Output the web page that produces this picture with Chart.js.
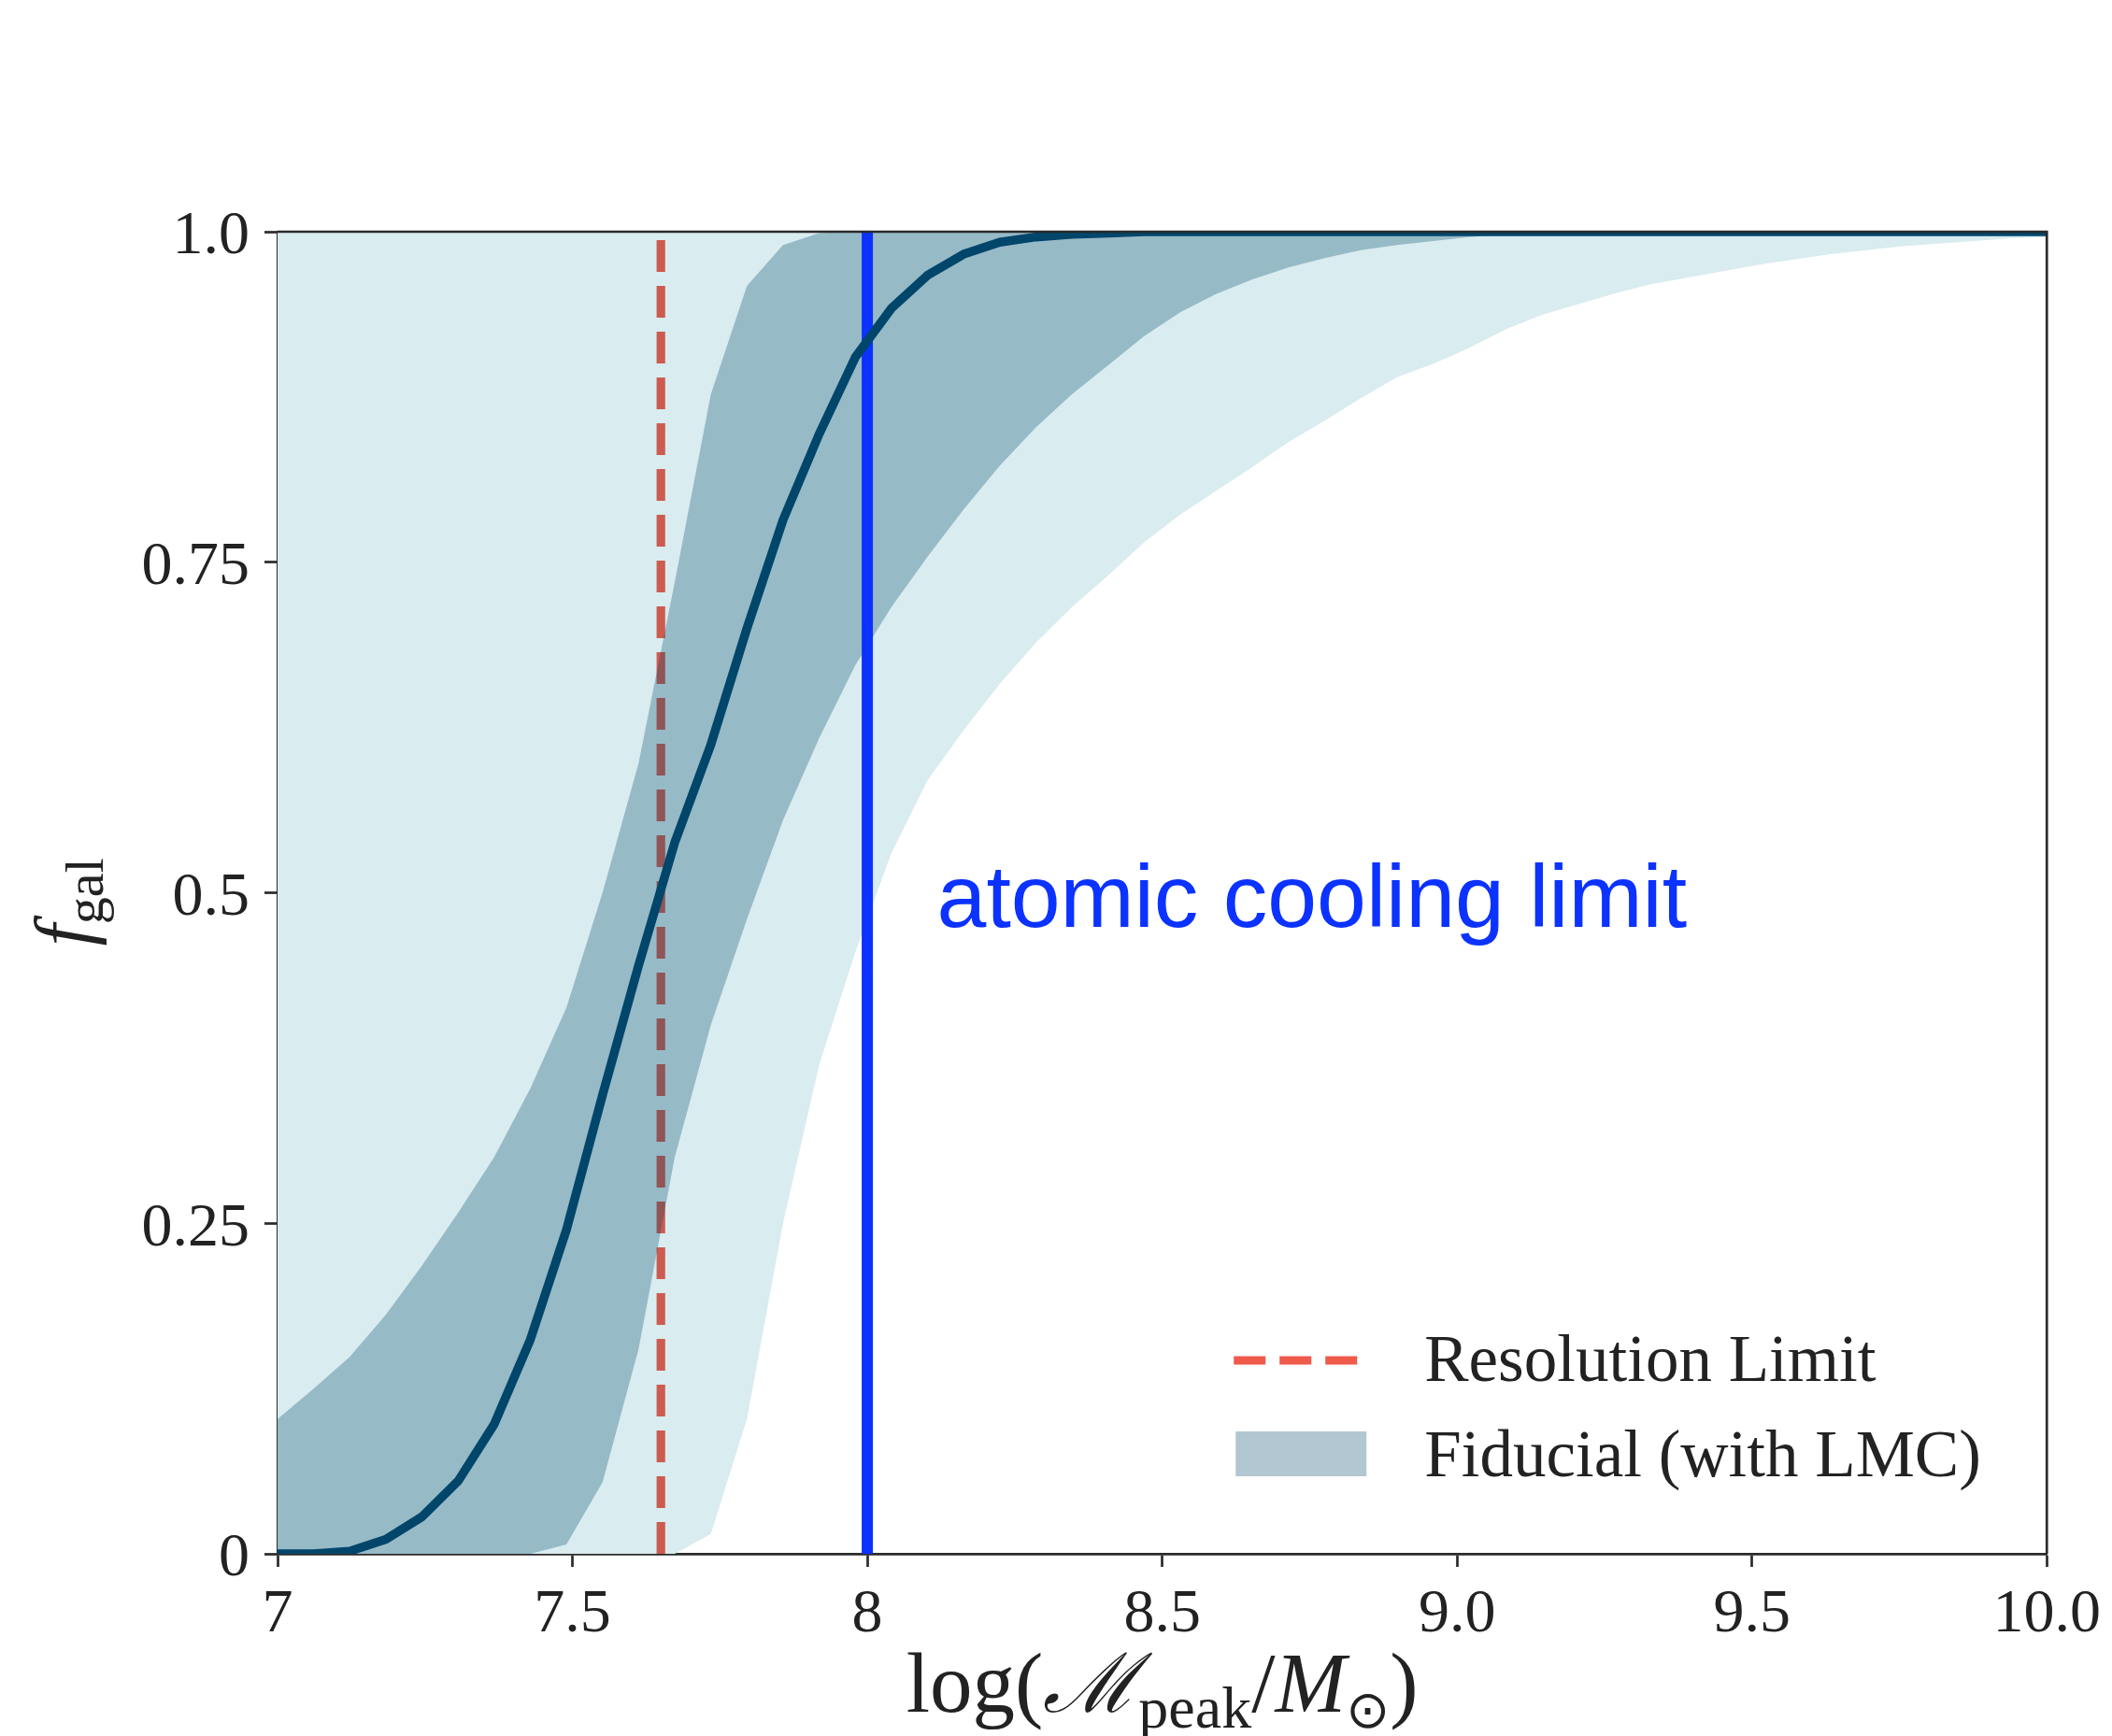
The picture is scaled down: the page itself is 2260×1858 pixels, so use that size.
<!DOCTYPE html>
<html>
<head>
<meta charset="utf-8">
<title>f_gal vs log M_peak</title>
<script src="https://cdn.jsdelivr.net/npm/chart.js@4.4.1/dist/chart.umd.min.js"></script>
<style>
  html, body { margin: 0; padding: 0; background: #fff; }
  #wrap { width: 2260px; height: 1858px; position: relative; }
</style>
</head>
<body>
<div id="wrap"><canvas id="chartFgal" width="2260" height="1858"></canvas></div>
<script>
// Rejilla en log(M_peak/Msun), 50 puntos entre 7 y 10
const logMpeak = [
  7.0000, 7.0612, 7.1224, 7.1837, 7.2449, 7.3061, 7.3673, 7.4286, 7.4898, 7.5510,
  7.6122, 7.6735, 7.7347, 7.7959, 7.8571, 7.9184, 7.9796, 8.0408, 8.1020, 8.1633,
  8.2245, 8.2857, 8.3469, 8.4082, 8.4694, 8.5306, 8.5918, 8.6531, 8.7143, 8.7755,
  8.8367, 8.8980, 8.9592, 9.0204, 9.0816, 9.1429, 9.2041, 9.2653, 9.3265, 9.3878,
  9.4490, 9.5102, 9.5714, 9.6327, 9.6939, 9.7551, 9.8163, 9.8776, 9.9388, 10.0000
];

// Mediana de f_gal
const fgalMedian = [
  0, 0, 0.002, 0.011, 0.028, 0.055, 0.098, 0.162, 0.245, 0.347,
  0.445, 0.538, 0.612, 0.700, 0.782, 0.847, 0.905, 0.942, 0.967, 0.983,
  0.992, 0.996, 0.998, 0.999, 1, 1, 1, 1, 1, 1,
  1, 1, 1, 1, 1, 1, 1, 1, 1, 1,
  1, 1, 1, 1, 1, 1, 1, 1, 1, 1
];

// Banda 1 sigma
const sigma1Upper = [
  0.102, 0.125, 0.149, 0.181, 0.218, 0.258, 0.300, 0.352, 0.413, 0.500,
  0.598, 0.735, 0.877, 0.959, 0.990, 0.999, 1, 1, 1, 1,
  1, 1, 1, 1, 1, 1, 1, 1, 1, 1,
  1, 1, 1, 1, 1, 1, 1, 1, 1, 1,
  1, 1, 1, 1, 1, 1, 1, 1, 1, 1
];
const sigma1Lower = [
  0, 0, 0, 0, 0, 0, 0, 0, 0.007, 0.054,
  0.155, 0.300, 0.400, 0.480, 0.555, 0.617, 0.672, 0.716, 0.754, 0.790,
  0.823, 0.852, 0.877, 0.899, 0.921, 0.939, 0.953, 0.964, 0.973, 0.980,
  0.986, 0.990, 0.993, 0.996, 0.998, 0.999, 1, 1, 1, 1,
  1, 1, 1, 1, 1, 1, 1, 1, 1, 1
];

// Banda 2 sigma
const sigma2Upper = [
  1, 1, 1, 1, 1, 1, 1, 1, 1, 1,
  1, 1, 1, 1, 1, 1, 1, 1, 1, 1,
  1, 1, 1, 1, 1, 1, 1, 1, 1, 1,
  1, 1, 1, 1, 1, 1, 1, 1, 1, 1,
  1, 1, 1, 1, 1, 1, 1, 1, 1, 1
];
const sigma2Lower = [
  0, 0, 0, 0, 0, 0, 0, 0, 0, 0,
  0, 0, 0.015, 0.102, 0.250, 0.370, 0.455, 0.530, 0.585, 0.623,
  0.658, 0.689, 0.716, 0.740, 0.765, 0.786, 0.804, 0.822, 0.841, 0.857,
  0.874, 0.890, 0.900, 0.912, 0.926, 0.937, 0.945, 0.953, 0.960, 0.965,
  0.970, 0.975, 0.979, 0.983, 0.986, 0.989, 0.991, 0.993, 0.995, 0.996
];

// Límites verticales
const resolutionLimit = 7.65;
const atomicCoolingLimit = 8.0;

// Ticks
const xTickValues = [7, 7.5, 8, 8.5, 9, 9.5, 10];
const xTickLabels = ['7', '7.5', '8', '8.5', '9.0', '9.5', '10.0'];
const yTickValues = [0, 0.25, 0.5, 0.75, 1];
const yTickLabels = ['0', '0.25', '0.5', '0.75', '1.0'];

// Estilos
const SERIF = '"Liberation Serif", "DejaVu Serif", serif';
const SANS = '"Liberation Sans", Arial, sans-serif';
const axisColor = '#2a2a2a';
const textColor = '#222222';
const colMedian = '#00466b';
const colBand1 = 'rgba(0, 70, 107, 0.3)';
const colBand2 = '#d9ecf0';
const colRes = '#cd5c50';
const colResLegend = '#f05a4a';
const colAtomic = '#0b32ff';

const toPts = ys => logMpeak.map((x, i) => ({ x, y: ys[i] }));
const vLine = x => [{ x, y: 0 }, { x, y: 1 }];

// Texto con subíndice: trozos [texto, fuente, desplazamiento]
function drawPieces(ctx, pieces, cx, baseline) {
  let total = 0;
  pieces.forEach(p => { ctx.font = p[1]; total += ctx.measureText(p[0]).width; });
  let x = cx - total / 2;
  pieces.forEach(p => {
    ctx.font = p[1];
    ctx.fillText(p[0], x, baseline + (p[2] || 0));
    x += ctx.measureText(p[0]).width;
  });
}

// Marco, etiquetas de ejes, leyenda y anotación
const extras = {
  id: 'extras',
  afterDraw(chart) {
    const { ctx, chartArea: a, scales: { x, y } } = chart;
    ctx.save();

    // marco superior y derecho
    ctx.strokeStyle = axisColor;
    ctx.lineWidth = 2.7;
    ctx.beginPath();
    ctx.moveTo(a.left, a.top);
    ctx.lineTo(a.right, a.top);
    ctx.lineTo(a.right, a.bottom);
    ctx.stroke();

    // anotación del límite de enfriamiento atómico
    ctx.fillStyle = colAtomic;
    ctx.font = '95px ' + SANS;
    ctx.textAlign = 'left';
    ctx.textBaseline = 'alphabetic';
    ctx.fillText('atomic cooling limit', x.getPixelForValue(8.118), y.getPixelForValue(0.474));

    // etiqueta eje x
    ctx.fillStyle = textColor;
    drawPieces(ctx, [
      ['log(', '91px ' + SERIF],
      ['ℳ', 'italic 88px ' + SERIF],
      ['peak', '64px ' + SERIF, 17],
      ['/', '91px ' + SERIF],
      ['M', 'italic 91px ' + SERIF],
      ['⊙', '56px "DejaVu Sans", sans-serif', 17],
      [')', '91px ' + SERIF]
    ], (a.left + a.right) / 2, 1832);

    // etiqueta eje y
    ctx.save();
    ctx.translate(96, (a.top + a.bottom) / 2 + 10);
    ctx.rotate(-Math.PI / 2);
    drawPieces(ctx, [
      ['f', 'italic 84px ' + SERIF],
      ['gal', '58px ' + SERIF, 14]
    ], 0, 0);
    ctx.restore();

    // leyenda
    const lx = a.right - 870;
    ctx.strokeStyle = colResLegend;
    ctx.lineWidth = 9.2;
    ctx.setLineDash([34, 15]);
    ctx.beginPath();
    ctx.moveTo(lx, a.bottom - 207);
    ctx.lineTo(lx + 132, a.bottom - 207);
    ctx.stroke();
    ctx.setLineDash([]);
    ctx.fillStyle = colBand1;
    ctx.fillRect(lx + 2, a.bottom - 131, 140, 48);
    ctx.fillStyle = textColor;
    ctx.font = '71px ' + SERIF;
    ctx.textAlign = 'left';
    ctx.fillText('Resolution Limit', lx + 204, a.bottom - 185);
    ctx.fillText('Fiducial (with LMC)', lx + 204, a.bottom - 83);

    ctx.restore();
  }
};

const tickFont = { family: SERIF, size: 66 };

new Chart(document.getElementById('chartFgal'), {
  type: 'line',
  data: {
    datasets: [
      {
        label: '2 sigma',
        data: toPts(sigma2Upper),
        fill: '+1',
        backgroundColor: colBand2,
        borderWidth: 0,
        borderColor: 'transparent',
        pointRadius: 0,
        order: 7,
        clip: 0
      },
      {
        label: '2 sigma lower',
        data: toPts(sigma2Lower),
        fill: false,
        borderWidth: 0,
        borderColor: 'transparent',
        pointRadius: 0,
        order: 7,
        clip: 0
      },
      {
        label: 'Resolution Limit',
        data: vLine(resolutionLimit),
        borderColor: colRes,
        borderWidth: 9.2,
        borderDash: [34, 15],
        borderCapStyle: 'butt',
        pointRadius: 0,
        order: 6,
        clip: 0
      },
      {
        label: 'Fiducial (with LMC)',
        data: toPts(sigma1Upper),
        fill: '+1',
        backgroundColor: colBand1,
        borderWidth: 0,
        borderColor: 'transparent',
        pointRadius: 0,
        order: 5,
        clip: 0
      },
      {
        label: '1 sigma lower',
        data: toPts(sigma1Lower),
        fill: false,
        borderWidth: 0,
        borderColor: 'transparent',
        pointRadius: 0,
        order: 5,
        clip: 0
      },
      {
        label: 'atomic cooling limit',
        data: vLine(atomicCoolingLimit),
        borderColor: colAtomic,
        borderWidth: 12,
        pointRadius: 0,
        order: 4,
        clip: 0
      },
      {
        label: 'median',
        data: toPts(fgalMedian),
        borderColor: colMedian,
        borderWidth: 9.5,
        borderJoinStyle: 'round',
        pointRadius: 0,
        order: 3,
        clip: 0
      }
    ]
  },
  options: {
    responsive: false,
    animation: false,
    events: [],
    layout: { padding: { left: 97, right: 68, top: 248, bottom: 45 } },
    plugins: {
      legend: { display: false },
      tooltip: { enabled: false }
    },
    scales: {
      x: {
        type: 'linear',
        min: 7,
        max: 10,
        z: 1,
        afterBuildTicks: s => { s.ticks = xTickValues.map(v => ({ value: v })); },
        afterFit: s => { s.height = 150; },
        ticks: {
          callback: (v, i) => xTickLabels[i],
          font: tickFont,
          color: textColor,
          padding: 12,
          autoSkip: false,
          maxRotation: 0
        },
        grid: { drawOnChartArea: false, tickLength: 14, tickWidth: 2.7, tickColor: axisColor },
        border: { color: axisColor, width: 2.7 }
      },
      y: {
        type: 'linear',
        min: 0,
        max: 1,
        z: 1,
        afterBuildTicks: s => { s.ticks = yTickValues.map(v => ({ value: v })); },
        afterFit: s => { s.width = 200; },
        ticks: {
          callback: (v, i) => yTickLabels[i],
          font: tickFont,
          color: textColor,
          padding: 16,
          labelOffset: 6,
          autoSkip: false
        },
        grid: { drawOnChartArea: false, tickLength: 14, tickWidth: 2.7, tickColor: axisColor },
        border: { color: axisColor, width: 2.7 }
      }
    }
  },
  plugins: [extras]
});
</script>
</body>
</html>
